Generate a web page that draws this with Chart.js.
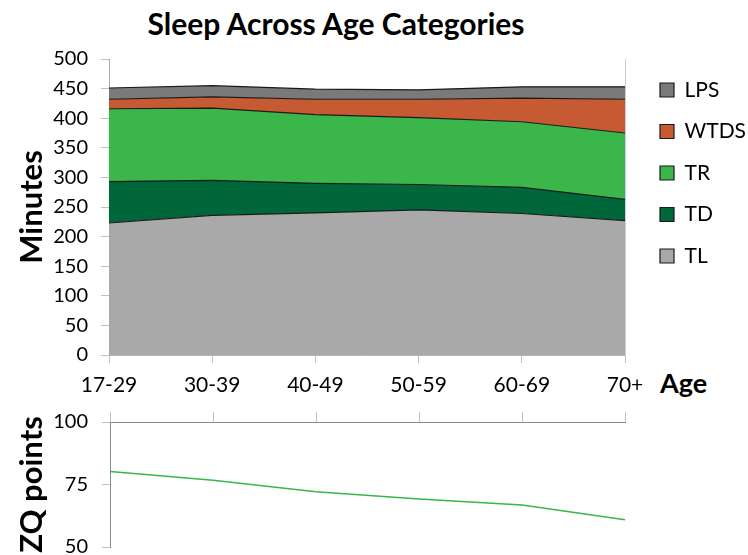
<!DOCTYPE html>
<html><head><meta charset="utf-8">
<script src="https://cdn.jsdelivr.net/npm/chart.js@4.4.1/dist/chart.umd.min.js"></script>
<style>
html,body{margin:0;padding:0;background:#fff;overflow:hidden;width:748px;height:555px;}
#top{position:absolute;left:0;top:0;width:748px;height:400px;}
#bot{position:absolute;left:0;top:396px;width:748px;height:177px;}
.t{position:absolute;font-family:Lato,sans-serif;font-weight:bold;color:#000;white-space:nowrap;}
#title{left:0;width:672px;text-align:center;top:8px;font-size:30px;line-height:30px;}
#age{left:660px;top:366px;font-size:27px;}
</style></head><body>
<div class="t" id="title">Sleep Across Age Categories</div>
<div class="t" id="age">Age</div>
<div id="top"><canvas id="c1"></canvas></div>
<div id="bot"><canvas id="c2"></canvas></div>
<script>
// ---- data ----
const categories = ['17-29', '30-39', '40-49', '50-59', '60-69', '70+'];
const TL   = [223, 236, 240, 245, 239, 227];
const TD   = [70, 59, 50, 43, 44, 36];
const TR   = [123, 122, 116, 113, 111, 112];
const WTDS = [16, 19, 26, 31, 40, 57];
const LPS  = [19, 19, 17, 16, 19, 21];
const zqPoints = [80.2, 76.7, 72.1, 69.2, 66.8, 60.9];
const minuteTicks = [0, 50, 100, 150, 200, 250, 300, 350, 400, 450, 500];
const zqTicks = [50, 75, 100];

Chart.defaults.font.family = 'Lato, sans-serif';
Chart.defaults.color = '#000';

const legendPlace = {
  id: 'legendPlace',
  beforeLayout(chart, args, opts) {
    const lg = chart.legend;
    if (lg && !lg.__patched) {
      const orig = lg.fit;
      lg.fit = function () { orig.call(this); this.width = opts.width; };
      lg.__patched = true;
    }
  },
  afterLayout(chart, args, opts) {
    const lg = chart.legend;
    if (lg) { lg.left += opts.shift; lg.right += opts.shift; }
  }
};

const series = [
  {label: 'TL', data: TL, color: '#a9a9a9'},
  {label: 'TD', data: TD, color: '#00673a'},
  {label: 'TR', data: TR, color: '#3bb64b'},
  {label: 'WTDS', data: WTDS, color: '#c65a32'},
  {label: 'LPS', data: LPS, color: '#7a7a7a'}
];

new Chart(document.getElementById('c1'), {
  type: 'line',
  data: {
    labels: categories,
    datasets: series.map((s, i) => ({
      label: s.label,
      data: s.data,
      backgroundColor: s.color,
      borderColor: '#1a1a1a',
      borderWidth: 1.2,
      fill: i === 0 ? 'origin' : '-1',
      pointRadius: 0,
      tension: 0
    }))
  },
  options: {
    responsive: true,
    maintainAspectRatio: false,
    animation: false,
    devicePixelRatio: 1,
    layout: {padding: {left: 0, right: 0, top: 59, bottom: 0}},
    plugins: {
      legendPlace: {width: 123, shift: 14.5},
      tooltip: {enabled: false},
      title: {display: false},
      legend: {
        display: true,
        position: 'right',
        align: 'start',
        fullSize: false,
        reverse: true,
        labels: {
          boxWidth: 14,
          boxHeight: 14,
          padding: 20.5,
          color: '#000',
          font: {size: 21, family: 'Lato, sans-serif'}
        }
      }
    },
    scales: {
      x: {
        type: 'category',
        offset: false,
        afterFit: s => { s.height = 45; },
        ticks: {font: {size: 21}, padding: 10, color: '#000', maxRotation: 0, autoSkip: false},
        grid: {display: true, drawOnChartArea: false, drawTicks: true, tickLength: 8, color: '#c0c0c0'},
        border: {display: true, color: '#b4b4b4'}
      },
      y: {
        stacked: true,
        min: 0,
        max: 500,
        afterFit: s => { s.width = 109; },
        afterBuildTicks: s => { s.ticks = minuteTicks.map(v => ({value: v})); },
        ticks: {font: {size: 20}, padding: 13, color: '#000'},
        grid: {display: true, drawOnChartArea: false, drawTicks: true, tickLength: 8, color: '#c0c0c0'},
        border: {display: true, color: '#a8adb4'},
        title: {display: true, text: 'Minutes', font: {size: 31, weight: 'bold'}, color: '#000', padding: {top: 13, bottom: 0}}
      },
      yR: {
        position: 'right',
        min: 0,
        max: 500,
        afterFit: s => { s.width = 0; },
        ticks: {display: false},
        grid: {display: false, drawTicks: false},
        border: {display: true, color: '#c8d0dc'}
      }
    }
  },
  plugins: [legendPlace]
});

new Chart(document.getElementById('c2'), {
  type: 'line',
  data: {
    labels: categories,
    datasets: [{
      label: 'ZQ points',
      data: zqPoints,
      borderColor: '#3ab54a',
      borderWidth: 1.5,
      pointRadius: 0,
      fill: false,
      tension: 0
    }]
  },
  options: {
    responsive: true,
    maintainAspectRatio: false,
    animation: false,
    devicePixelRatio: 1,
    layout: {padding: {left: 0, right: 123, top: 0, bottom: 0}},
    plugins: {legend: {display: false}, tooltip: {enabled: false}, title: {display: false}},
    scales: {
      x: {
        position: 'top',
        offset: false,
        afterFit: s => { s.height = 10; },
        ticks: {display: false},
        grid: {display: true, drawOnChartArea: false, drawTicks: true, tickLength: 10, color: '#c0c0c0'},
        border: {display: true, color: '#8a8a8a'}
      },
      y: {
        min: 50,
        max: 100,
        afterFit: s => { s.width = 110; },
        afterBuildTicks: s => { s.ticks = zqTicks.map(v => ({value: v})); },
        ticks: {font: {size: 20}, padding: 14, color: '#000'},
        grid: {display: true, drawOnChartArea: false, drawTicks: true, tickLength: 8, color: '#c0c0c0'},
        border: {display: true, color: '#8a8a8a'},
        title: {display: true, text: 'ZQ points', font: {size: 31, weight: 'bold'}, color: '#000', padding: {top: 13, bottom: 0}}
      }
    }
  }
});
</script>
</body></html>
